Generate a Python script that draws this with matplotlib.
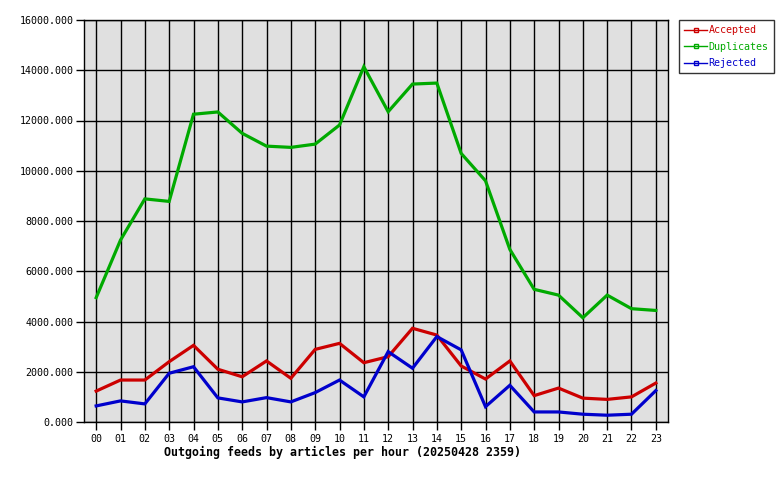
import matplotlib

matplotlib.use("Agg")
import matplotlib.pyplot as plt
from matplotlib.ticker import FormatStrFormatter

hours = [f"{h:02d}" for h in range(24)]

accepted = [1230, 1670, 1670, 2400, 3050, 2100, 1800, 2430, 1740, 2890, 3130, 2360,
            2600, 3730, 3460, 2230, 1710, 2430, 1050, 1350, 950, 900, 1000, 1550]
duplicates = [4950, 7240, 8880, 8780, 12250, 12340, 11490, 10980, 10930, 11060, 11820, 14140,
              12350, 13450, 13490, 10690, 9600, 6870, 5280, 5050, 4150, 5050, 4510, 4440]
rejected = [640, 840, 720, 1940, 2200, 960, 800, 970, 800, 1170, 1670, 1000,
            2800, 2140, 3400, 2870, 610, 1460, 400, 400, 310, 270, 310, 1250]

series = [
    ("Accepted", accepted, "#cc0000"),
    ("Duplicates", duplicates, "#00aa00"),
    ("Rejected", rejected, "#0000cc"),
]

plt.rcParams["font.family"] = "DejaVu Sans Mono"

fig = plt.figure(figsize=(7.8, 4.8), dpi=100)
ax = fig.add_axes([84 / 780, 58 / 480, 584 / 780, 402 / 480])
ax.set_facecolor("#e0e0e0")

x = list(range(len(hours)))
handles = []
for name, values, color in series:
    ax.plot(x, values, color=color, linewidth=2.3, solid_joinstyle="miter", zorder=3)
    handles.append(
        plt.Line2D([], [], color=color, linewidth=1.0, marker="s", markersize=3,
                   markerfacecolor="none", markeredgecolor=color, label=name)
    )

ax.set_xlim(-0.5, 23.5)
ax.set_ylim(0, 16000)
ax.set_xticks(x)
ax.set_xticklabels(hours)
ax.set_yticks(range(0, 16001, 2000))
ax.yaxis.set_major_formatter(FormatStrFormatter("%.3f"))
ax.grid(True, color="black", linewidth=1.0, zorder=1)
ax.set_axisbelow(True)
ax.tick_params(axis="both", labelsize=7.2, length=5.5, width=1, color="black",
               direction="out", pad=2)
ax.tick_params(axis="x", pad=3)
for spine in ax.spines.values():
    spine.set_linewidth(1.0)
    spine.set_color("black")

leg = fig.legend(
    handles=handles,
    loc="upper left",
    bbox_to_anchor=(679 / 780, 1 - 20 / 480),
    fontsize=7.2,
    frameon=True,
    fancybox=False,
    handlelength=2.3,
    handletextpad=0.15,
    borderpad=0.5,
    labelspacing=0.65,
    borderaxespad=0,
)
leg.get_frame().set_edgecolor("black")
leg.get_frame().set_linewidth(1.0)
for text, (_, _, color) in zip(leg.get_texts(), series):
    text.set_color(color)

fig.text(164 / 780, 1 - 452 / 480, "Outgoing feeds by articles per hour (20250428 2359)",
         fontsize=8.4, fontweight="bold", ha="left", va="center")

fig.savefig("out.png", dpi=100)
